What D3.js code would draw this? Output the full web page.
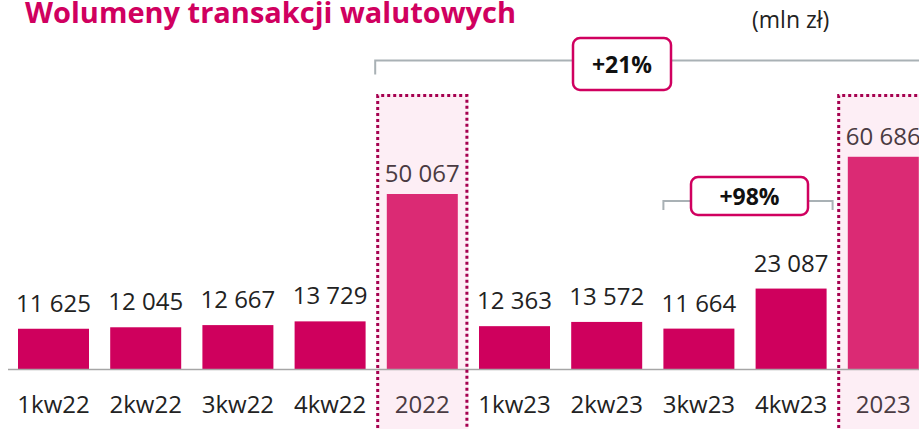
<!DOCTYPE html>
<html>
<head>
<meta charset="utf-8">
<script src="https://cdn.jsdelivr.net/npm/d3@7/dist/d3.min.js"></script>
<style>
  html, body { margin: 0; padding: 0; background: #fff; }
  svg { display: block; }
</style>
</head>
<body>
<svg id="chart" width="919" height="429"></svg>
<script>
// Currency transaction volumes, quarterly and annual (mln zł)
const categories = ["1kw22", "2kw22", "3kw22", "4kw22", "2022", "1kw23", "2kw23", "3kw23", "4kw23", "2023"];
const values = [11625, 12045, 12667, 13729, 50067, 12363, 13572, 11664, 23087, 60686];
const valueLabels = ["11 625", "12 045", "12 667", "13 729", "50 067", "12 363", "13 572", "11 664", "23 087", "60 686"];
const annual = ["2022", "2023"];
const changeLabels = ["+21%", "+98%"];

const svg = d3.select("#chart");
const W = 919, H = 429;
const baseY = 369.5;
const FONT = "'Open Sans', 'Noto Sans', sans-serif";

const x = d3.scaleBand()
  .domain(categories)
  .range([7.4, 929.4])
  .paddingInner(0.23)
  .paddingOuter(0.115);
const step = x.step();

const y = d3.scaleLinear()
  .domain([0, 50067])
  .range([baseY, 194]);

// Highlighted annual columns
annual.forEach(c => {
  const cx = x(c) + x.bandwidth() / 2;
  svg.append("rect")
    .attr("x", cx - step / 2)
    .attr("y", 94)
    .attr("width", step)
    .attr("height", H - 94 + 10)
    .attr("fill", "#fdeef5");
});

// Bars
svg.selectAll("rect.bar")
  .data(categories)
  .enter().append("rect")
  .attr("class", "bar")
  .attr("x", d => x(d))
  .attr("y", (d, i) => y(values[i]))
  .attr("width", x.bandwidth())
  .attr("height", (d, i) => baseY - y(values[i]))
  .attr("fill", d => annual.includes(d) ? "#db2a74" : "#cf005d");

// Baseline axis
const axis = d3.axisBottom(x).tickSize(0).tickPadding(26);
const axisG = svg.append("g")
  .attr("transform", `translate(0,${baseY})`)
  .call(axis);
axisG.select(".domain").remove();
axisG.append("line")
  .attr("x1", 8).attr("x2", W)
  .attr("y1", 0).attr("y2", 0)
  .attr("stroke", "#a6a6a6")
  .attr("stroke-width", 1.5);
axisG.selectAll(".tick text")
  .attr("font-family", FONT)
  .attr("font-size", 24)
  .attr("fill", d => annual.includes(d) ? "#4a3b42" : "#222");

// Dotted borders of the annual columns
annual.forEach(c => {
  const cx = x(c) + x.bandwidth() / 2;
  const l = cx - step / 2 + 1.5, r = cx + step / 2 - 1.5;
  svg.append("path")
    .attr("d", `M${l},${H + 5}V95.5H${r}V${H + 5}`)
    .attr("fill", "none")
    .attr("stroke", "#a5004f")
    .attr("stroke-width", 3)
    .attr("stroke-dasharray", "3,3");
});

// Value labels
svg.selectAll("text.val")
  .data(categories)
  .enter().append("text")
  .attr("class", "val")
  .attr("x", d => x(d) + x.bandwidth() / 2)
  .attr("y", (d, i) => y(values[i]) - (annual.includes(d) ? 12 : 17))
  .attr("text-anchor", "middle")
  .attr("font-family", FONT)
  .attr("font-size", 24)
  .attr("fill", d => annual.includes(d) ? "#4a3b42" : "#222")
  .text((d, i) => valueLabels[i]);

// Change brackets with boxed percentages
function bracket(x1, x2, ly, tickLen, boxX, boxW, boxY, boxH, label) {
  svg.append("path")
    .attr("d", `M${x1},${ly + tickLen}V${ly}H${x2}V${ly + tickLen}`)
    .attr("fill", "none")
    .attr("stroke", "#a9b1b5")
    .attr("stroke-width", 2);
  svg.append("rect")
    .attr("x", boxX).attr("y", boxY)
    .attr("width", boxW).attr("height", boxH)
    .attr("rx", 7)
    .attr("fill", "#fff")
    .attr("stroke", "#d0005f")
    .attr("stroke-width", 2.5);
  svg.append("text")
    .attr("x", boxX + boxW / 2)
    .attr("y", boxY + boxH / 2 + 9)
    .attr("text-anchor", "middle")
    .attr("font-family", FONT)
    .attr("font-weight", "bold")
    .attr("font-size", 23)
    .attr("fill", "#111")
    .text(label);
}
const c2022 = x("2022") + x.bandwidth() / 2;
bracket(c2022 - step / 2 - 1, W + 20, 60.5, 14, 573, 98, 38, 52, changeLabels[0]);
const l3 = x("3kw23");
const c4 = x("4kw23") + x.bandwidth() / 2;
bracket(l3, c4 + step * 0.45, 201, 9, 691, 117, 177, 38, changeLabels[1]);

// Title and unit
svg.append("text")
  .attr("x", 25).attr("y", 23)
  .attr("font-family", FONT)
  .attr("font-weight", "bold")
  .attr("font-size", 29)
  .attr("fill", "#d0005f")
  .text("Wolumeny transakcji walutowych");
svg.append("text")
  .attr("x", 752).attr("y", 28)
  .attr("font-family", FONT)
  .attr("font-size", 23)
  .attr("fill", "#222")
  .text("(mln zł)");
</script>
</body>
</html>
